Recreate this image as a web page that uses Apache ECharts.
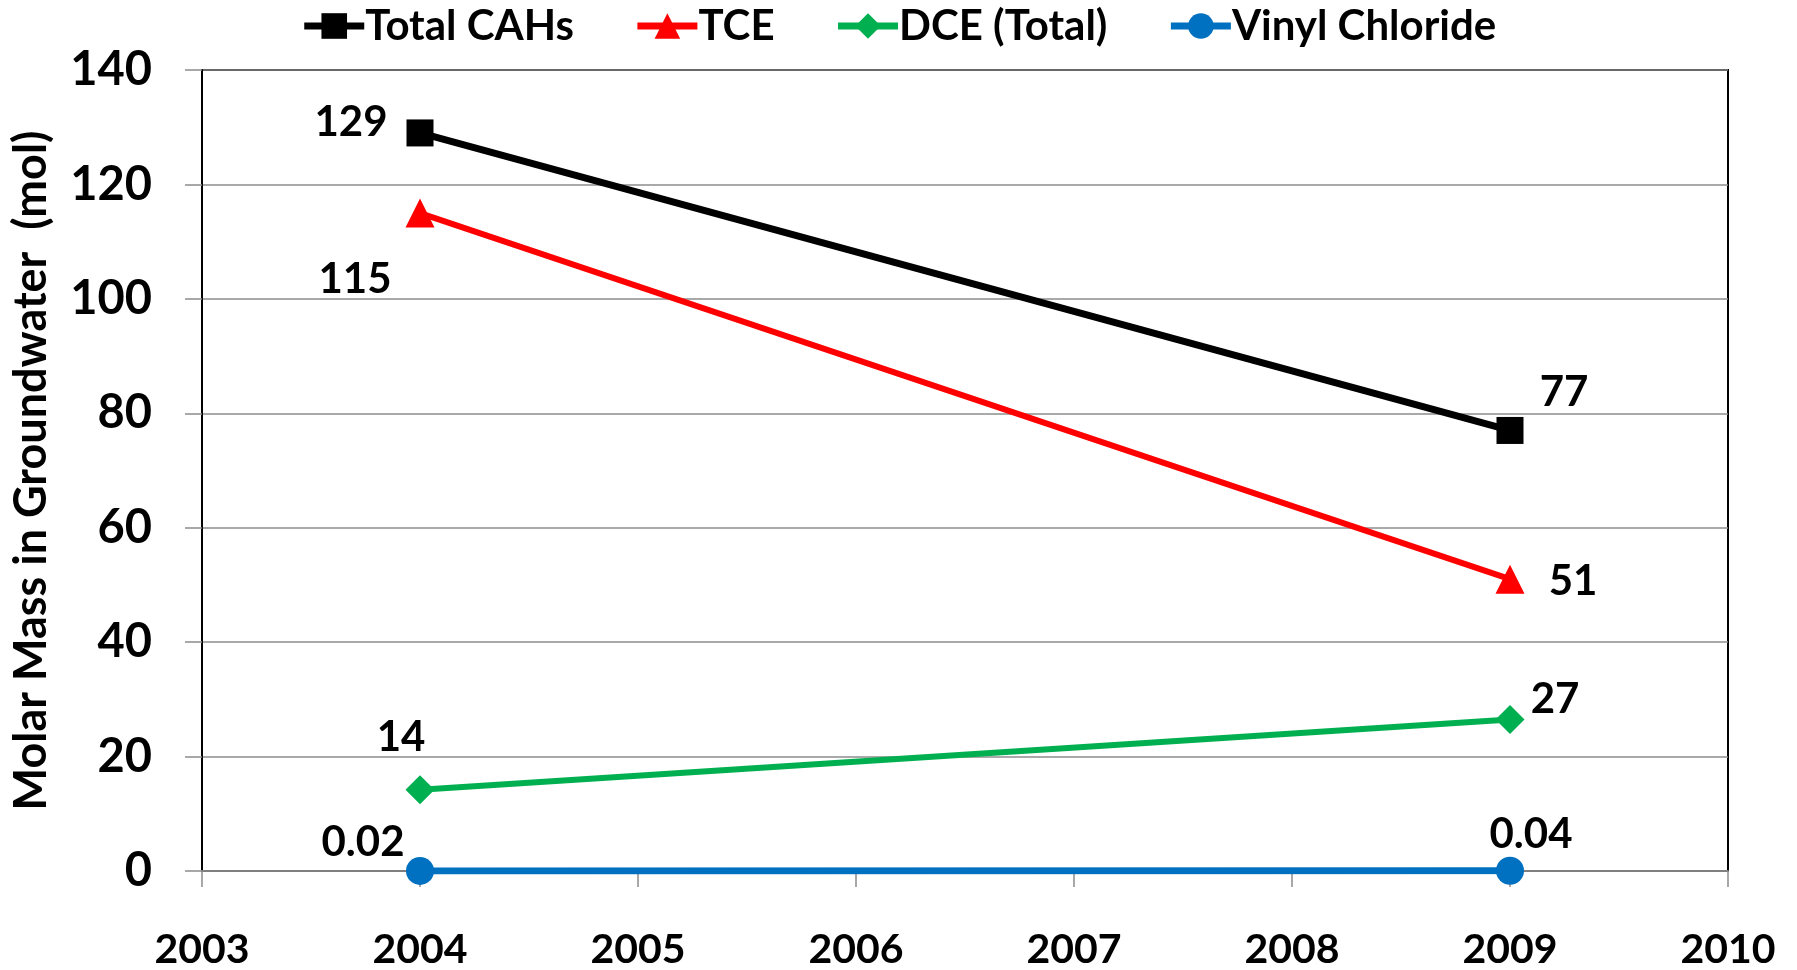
<!DOCTYPE html>
<html>
<head>
<meta charset="utf-8">
<script src="https://cdn.jsdelivr.net/npm/echarts@6/dist/echarts.min.js"></script>
<style>
  html, body { margin: 0; padding: 0; background: #fff; }
  #chart { width: 1797px; height: 970px; }
</style>
</head>
<body>
<div id="chart"></div>
<script>
(function() {
  // data
  var years = [2004, 2009];
  var totalCAHs = [129, 77];
  var tce = [115, 51];
  var dceTotal = [14.2, 26.5];
  var vinylChloride = [0.02, 0.04];
  var labelTexts = {
    "Total CAHs": ["129", "77"],
    "TCE": ["115", "51"],
    "DCE (Total)": ["14", "27"],
    "Vinyl Chloride": ["0.02", "0.04"]
  };
  var xTicks = [2003, 2004, 2005, 2006, 2007, 2008, 2009, 2010];
  var yTicks = [0, 20, 40, 60, 80, 100, 120, 140];

  var font = "Lato";
  var myChart = echarts.init(document.getElementById("chart"));

  // label offsets from the marker centre (pixels)
  var labelOffsets = {
    "Total CAHs": [[-69, -10], [54, -38]],
    "TCE": [[-65, 66], [63, 2]],
    "DCE (Total)": [[-19, -52], [45, -20]],
    "Vinyl Chloride": [[-57, -28], [21, -36]]
  };

  function makeSeries(name, values, color, symbol, symbolSize, width) {
    return {
      name: name,
      type: "line",
      symbol: symbol,
      symbolSize: symbolSize,
      showAllSymbol: true,
      lineStyle: { color: color, width: width },
      itemStyle: { color: color },
      z: 3,
      data: values.map(function(v, i) {
        return {
          value: [years[i], v],
          label: {
            show: true,
            position: ["50%", "50%"],
            align: "center",
            verticalAlign: "middle",
            offset: labelOffsets[name][i],
            formatter: labelTexts[name][i],
            color: "#000",
            fontFamily: font,
            fontWeight: "bold",
            fontSize: 42
          }
        };
      })
    };
  }

  var option = {
    animation: false,
    backgroundColor: "#fff",
    textStyle: { fontFamily: font },
    legend: {
      top: 0,
      left: "center",
      itemWidth: 60,
      itemHeight: 32,
      itemGap: 60,
      lineStyle: { width: 7 },
      textStyle: { fontFamily: font, fontWeight: "bold", fontSize: 42, color: "#000", padding: [0, 0, 0, -4] },
      data: ["Total CAHs", "TCE", "DCE (Total)", "Vinyl Chloride"]
    },
    grid: {
      left: 202,
      right: 69,
      top: 70,
      bottom: 97,
      show: true,
      borderColor: "#000",
      borderWidth: 2,
      containLabel: false
    },
    xAxis: {
      type: "value",
      min: xTicks[0],
      max: xTicks[xTicks.length - 1],
      interval: 1,
      axisLine: { onZero: false, lineStyle: { color: "#7f7f7f", width: 2 } },
      axisTick: { show: true, length: 16, lineStyle: { color: "#8c8c8c", width: 1.5 } },
      splitLine: { show: false },
      axisLabel: {
        margin: 58,
        color: "#000",
        fontFamily: font,
        fontWeight: "bold",
        fontSize: 41,
        formatter: function(v) { return xTicks.indexOf(v) >= 0 ? String(v) : ""; }
      }
    },
    yAxis: {
      type: "value",
      min: yTicks[0],
      max: yTicks[yTicks.length - 1],
      interval: 20,
      name: "Molar Mass in Groundwater  (mol)",
      nameLocation: "middle",
      nameGap: 148,
      nameTextStyle: { color: "#000", fontFamily: font, fontWeight: "bold", fontSize: 45 },
      axisLine: { show: true, lineStyle: { color: "#000", width: 2 } },
      axisTick: { show: true, length: 17, lineStyle: { color: "#8c8c8c", width: 1.5 } },
      splitLine: { show: true, lineStyle: { color: "#8c8c8c", width: 1.5 } },
      axisLabel: {
        margin: 50,
        color: "#000",
        fontFamily: font,
        fontWeight: "bold",
        fontSize: 47
      }
    },
    series: [
      makeSeries("Total CAHs", totalCAHs, "#000000", "rect", 27, 7),
      makeSeries("TCE", tce, "#ff0000", "triangle", 29, 6),
      makeSeries("DCE (Total)", dceTotal, "#00b050", "diamond", 29, 6),
      makeSeries("Vinyl Chloride", vinylChloride, "#0070c0", "circle", 28, 7)
    ]
  };
  myChart.setOption(option);
  window.addEventListener("resize", function() {
    myChart.resize();
  });
})();
</script>
</body>
</html>
